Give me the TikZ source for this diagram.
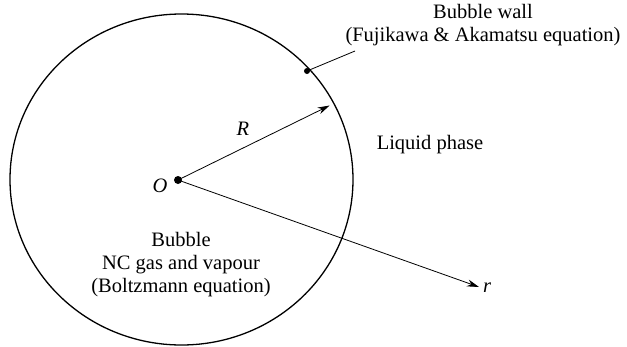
\documentclass[tikz,border=0pt]{standalone}
\usepackage{fontspec}
\setmainfont{Liberation Serif}
\usetikzlibrary{arrows.meta}
\begin{document}
\begin{tikzpicture}[x=1pt,y=-1pt,
  lbl/.style={font=\fontsize{20.5}{23}\selectfont, inner sep=0pt, align=center},
  ray/.style={line width=0.8pt, -{Stealth[length=12pt,width=7pt]}},
  dotc/.style={circle, fill=black, inner sep=0pt}]
\useasboundingbox (0,0) rectangle (627,346);
\draw[line width=1.3pt] (181.5,179.5) ellipse [x radius=171.5, y radius=165.5];
\node[dotc, minimum size=8pt] (O) at (178,180) {};
\node[dotc, minimum size=6pt] (W) at (307,71) {};
\coordinate (Rend) at (329.6,105.5);
\coordinate (rend) at (479,287);
\coordinate (Wl) at (355,51);
\draw[ray] (O.center) -- (Rend);
\draw[ray] (O.center) -- (rend);
\draw[line width=0.8pt] (W.center) -- (Wl);
\node[lbl] (wall) at (483,25) {Bubble wall\\(Fujikawa \& Akamatsu equation)};
\node[lbl] (Rl) at (243,129) {\itshape R};
\node[lbl] (Ol) at (160,186) {\itshape O};
\node[lbl] (rl) at (487,288) {\itshape r};
\node[lbl] (liq) at (430,145) {Liquid phase};
\node[lbl] (bub) at (181,265) {Bubble\\NC gas and vapour\\(Boltzmann equation)};
\end{tikzpicture}
\end{document}
